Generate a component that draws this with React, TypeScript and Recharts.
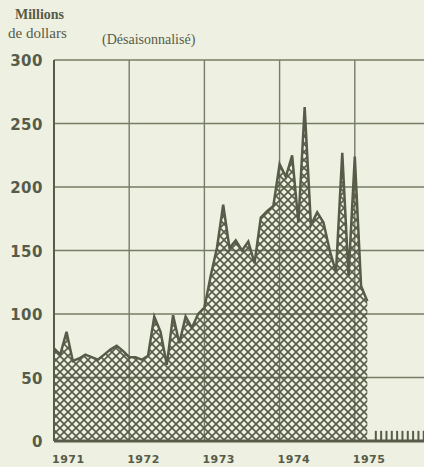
import { ComposedChart, Area, Bar, XAxis, YAxis, CartesianGrid } from "recharts";

// monthly values, millions of dollars, seasonally adjusted
const VALUES_1971 = [73, 68, 86, 63, 65, 68, 66, 64, 68, 72, 75, 71];
const VALUES_1972 = [66, 66, 64, 67, 98, 86, 60, 99, 77, 98, 89, 100];
const VALUES_1973 = [105, 130, 152, 186, 152, 158, 150, 157, 140, 176, 181, 185];
const VALUES_1974 = [218, 208, 225, 172, 263, 170, 180, 172, 150, 133, 227, 130];
const VALUES_1975 = [224, 122, 110];
// small marks along the axis for months with no figure yet
const PENDING_MARKS = [8, 8, 8, 8, 8, 8, 8, 8, 8, 8];

// the 1976 line sits just past the right edge, so it gets no label
const YEAR_LABELS = ["1971", "1972", "1973", "1974", "1975", ""];
const Y_TICKS = [0, 50, 100, 150, 200, 250, 300];

const BG = "#eef0e2";
const INK = "#565c48";
const GRID = "#767c65";

const MONTHLY = [...VALUES_1971, ...VALUES_1972, ...VALUES_1973, ...VALUES_1974, ...VALUES_1975];
const data = [
  ...MONTHLY.map((v, i) => ({ m: i, value: v })),
  ...PENDING_MARKS.map((v, i) => ({ m: MONTHLY.length + 0.3 + i * 0.85, mark: v })),
];
const X_TICKS = YEAR_LABELS.map((_, i) => i * 12);

const YearTick = ({ x, y, payload }: any) => (
  <text
    x={x - 2}
    y={y + 14}
    textAnchor="start"
    fill={INK}
    fontSize={11}
    fontWeight="bold"
    fontFamily="DejaVu Sans"
    letterSpacing={0.5}
  >
    {YEAR_LABELS[payload.value / 12]}
  </text>
);

const ValueTick = ({ y, payload }: any) => (
  <text
    x={43}
    y={y + 6}
    textAnchor="end"
    fill={INK}
    fontSize={15}
    fontWeight="bold"
    fontFamily="DejaVu Sans"
    letterSpacing={0.5}
  >
    {payload.value}
  </text>
);

const label = {
  position: "absolute" as const,
  color: INK,
  fontFamily: "Liberation Serif",
  whiteSpace: "nowrap" as const,
  lineHeight: 1,
};

export default function App() {
  return (
    <div
      style={{
        position: "absolute",
        top: 0,
        left: 0,
        width: 424,
        height: 467,
        overflow: "hidden",
        background: BG,
      }}
    >
      <svg width={0} height={0} style={{ position: "absolute" }}>
        <defs>
          <pattern id="mesh" width={8} height={8} patternUnits="userSpaceOnUse">
            <path d="M0,0 L8,8 M8,0 L0,8" stroke={INK} strokeWidth={1.6} />
          </pattern>
        </defs>
      </svg>

      <div style={{ ...label, left: 15, top: 8, fontSize: 14, fontWeight: "bold" }}>Millions</div>
      <div style={{ ...label, left: 8, top: 26, fontSize: 15 }}>de dollars</div>
      <div style={{ ...label, left: 102, top: 33, fontSize: 14 }}>(Désaisonnalisé)</div>

      <ComposedChart
        width={450}
        height={467}
        data={data}
        margin={{ top: 60, right: 20, bottom: 0, left: 0 }}
      >
        <CartesianGrid stroke={GRID} strokeWidth={1.4} />
        <XAxis
          dataKey="m"
          type="number"
          domain={[0, 60]}
          ticks={X_TICKS}
          height={26}
          tick={<YearTick />}
          tickLine={false}
          axisLine={{ stroke: INK, strokeWidth: 3 }}
          interval={0}
        />
        <YAxis
          domain={[0, 300]}
          ticks={Y_TICKS}
          width={54}
          tick={<ValueTick />}
          tickLine={false}
          axisLine={{ stroke: INK, strokeWidth: 2 }}
          interval={0}
        />
        <Area
          type="linear"
          dataKey="value"
          stroke={INK}
          strokeWidth={2.5}
          fill="url(#mesh)"
          fillOpacity={1}
          isAnimationActive={false}
          connectNulls={false}
        />
        <Bar dataKey="mark" fill={INK} barSize={2} isAnimationActive={false} />
      </ComposedChart>
    </div>
  );
}
